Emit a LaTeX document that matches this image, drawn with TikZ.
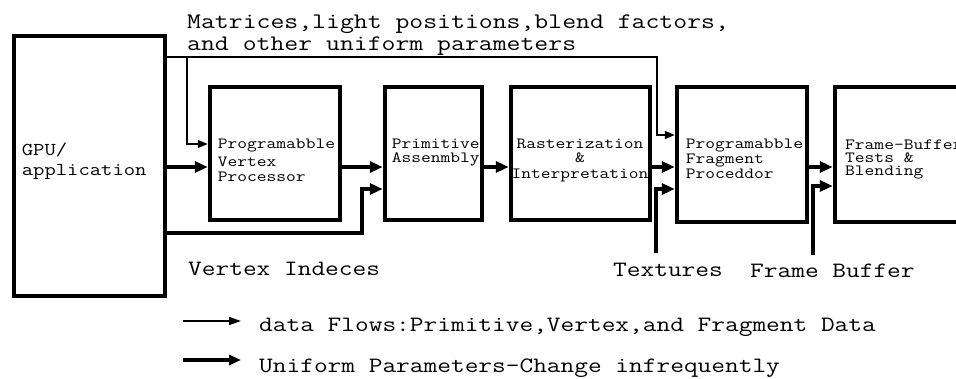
\documentclass[tikz,border=0pt]{standalone}
\usepackage{fontspec}
\newfontfamily\mono{Latin Modern Mono}[FakeStretch=1.215]
\usetikzlibrary{arrows.meta}
\begin{document}
\begin{tikzpicture}[x=1pt,y=-1pt,
  stagebox/.style={draw,line width=4.5pt,rectangle,inner sep=0pt,fill=white},
  lbl/.style={inner sep=0pt,anchor=base west,font=\mono\fontsize{15.6}{15.6}\selectfont},
  clbl/.style={inner sep=0pt,anchor=base,font=\mono\fontsize{15.6}{15.6}\selectfont},
  biglbl/.style={inner sep=0pt,anchor=base west,font=\mono\fontsize{21.9}{21.9}\selectfont},
  dataflow/.style={line width=3.5pt,-{Triangle[length=13pt,width=11pt]}},
  uniform/.style={line width=1.5pt,-{Triangle[length=10pt,width=8pt]}},
]
\clip (0,0) rectangle (956,378);
\fill[white] (0,0) rectangle (956,378);

% pipeline stages
\node[stagebox,minimum width=151pt,minimum height=260pt] (gpu)  at (89.5,166) {};
\node[stagebox,minimum width=130pt,minimum height=133pt] (vp)   at (275,153.5) {};
\node[stagebox,minimum width=97pt, minimum height=133pt] (pa)   at (433.5,153.5) {};
\node[stagebox,minimum width=139pt,minimum height=133pt] (rast) at (580.5,153.5) {};
\node[stagebox,minimum width=130pt,minimum height=135pt] (frag) at (742,154.5) {};
\node[stagebox,minimum width=130pt,minimum height=135pt] (fbt)  at (900,154.5) {};

% stage labels
\node[lbl,font=\mono\fontsize{18.1}{18.1}\selectfont] (gpuA) at (21.7,155) {GPU/};
\node[lbl,font=\mono\fontsize{18.1}{18.1}\selectfont] (gpuB) at (21.7,175.5) {application};

\node[lbl] (vpA) at (217.7,148.3) {Programabble};
\node[lbl] (vpB) at (217.7,166.7) {Vertex};
\node[lbl] (vpC) at (217.7,181) {Processor};

\node[lbl] (paA) at (391.7,148.3) {Primitive};
\node[lbl] (paB) at (391.7,162.3) {Assenmbly};

\node[clbl] (raA) at (580,148.3) {Rasterization};
\node[clbl] (raB) at (580,162) {\&};
\node[clbl] (raC) at (580,178.3) {Interpretation};

\node[lbl] (frA) at (685.7,148.3) {Programabble};
\node[lbl] (frB) at (685.7,163.3) {Fragment};
\node[lbl] (frC) at (685.7,178.3) {Proceddor};

\node[lbl] (fbA) at (845,149) {Frame-Buffer};
\node[lbl] (fbB) at (845,162.3) {Tests \&};
\node[lbl] (fbC) at (845,175.7) {Blending};

% outside labels
\node[biglbl,font=\mono\fontsize{22.2}{22.2}\selectfont] (uniA) at (187,28) {Matrices,light positions,blend factors,};
\node[biglbl,font=\mono\fontsize{22.2}{22.2}\selectfont] (uniB) at (187,50) {and other uniform parameters};
\node[biglbl] (vidx) at (188,275) {Vertex Indeces};
\node[biglbl] (tex)  at (613,276) {Textures};
\node[biglbl] (fbuf) at (750,277) {Frame Buffer};

% uniform parameter lines
\coordinate (split) at (187,57);
\coordinate (down)  at (657,135);
\draw[uniform] (gpu.east |- split) -| (down) -- (frag.west |- down);
\draw[uniform] (split) |- (vp.west |- 0,144);

% data flow
\coordinate (idx)  at (362,233);
\coordinate (texs) at (656,253);
\coordinate (fbs)  at (813,255);
\draw[dataflow] (gpu.east |- 0,167) -- (vp.west |- 0,167);
\draw[dataflow] (vp.east |- 0,167) -- (pa.west |- 0,167);
\draw[dataflow] (gpu.east |- idx) -| (362,189) -- (pa.west |- 0,189);
\draw[dataflow] (pa.east |- 0,167) -- (rast.west |- 0,167);
\draw[dataflow] (rast.east |- 0,167) -- (frag.west |- 0,167);
\draw[dataflow] (texs) |- (frag.west |- 0,189);
\draw[dataflow] (frag.east |- 0,167) -- (fbt.west |- 0,167);
\draw[dataflow] (fbs) |- (fbt.west |- 0,186);

% legend
\coordinate (l1a) at (183,321);
\coordinate (l1b) at (241,321);
\coordinate (l2a) at (183,360);
\coordinate (l2b) at (241,360);
\draw[line width=1.5pt,-{Triangle[length=12pt,width=8pt]}] (l1a) -- (l1b);
\draw[line width=3.5pt,-{Triangle[length=12pt,width=10pt]}] (l2a) -- (l2b);
\node[biglbl] (legA) at (259,331) {data Flows:Primitive,Vertex,and Fragment Data};
\node[biglbl] (legB) at (259,372.5) {Uniform Parameters-Change infrequently};
\end{tikzpicture}
\end{document}
